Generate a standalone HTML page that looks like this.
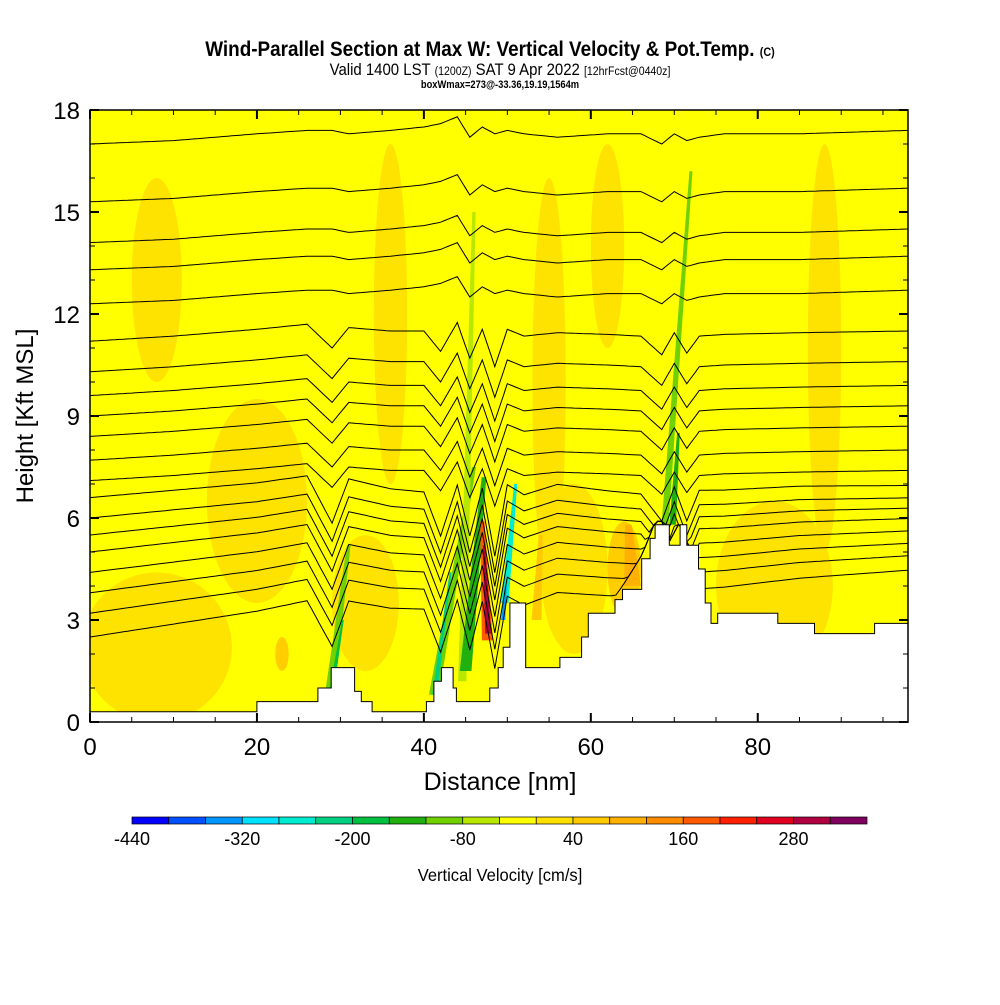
<!DOCTYPE html>
<html><head><meta charset="utf-8"><style>
body{margin:0;background:#fff;width:1000px;height:1000px;overflow:hidden;font-family:"Liberation Sans",sans-serif}
svg text{font-family:"Liberation Sans",sans-serif}
</style></head><body>
<svg id="c" width="1000" height="1000" viewBox="0 0 1000 1000">
<text x="490" y="56" text-anchor="middle" font-size="21" font-weight="bold" transform="translate(490,0) scale(0.9,1) translate(-490,0)">Wind-Parallel Section at Max W: Vertical Velocity &amp; Pot.Temp. <tspan font-size="12">(C)</tspan></text>
<text x="500" y="75" text-anchor="middle" font-size="17" transform="translate(500,0) scale(0.88,1) translate(-500,0)">Valid 1400 LST <tspan font-size="12">(1200Z)</tspan> SAT 9 Apr 2022 <tspan font-size="12">[12hrFcst@0440z]</tspan></text>
<text x="500" y="88" text-anchor="middle" font-size="11" font-weight="bold" transform="translate(500,0) scale(0.85,1) translate(-500,0)">boxWmax=273@-33.36,19.19,1564m</text>
<g id="plot"></g>
<g id="axes"></g>
<g id="cbar"></g>
<text x="500" y="881" text-anchor="middle" font-size="18" transform="translate(500,0) scale(0.92,1) translate(-500,0)">Vertical Velocity [cm/s]</text>
<text x="500" y="790" text-anchor="middle" font-size="25">Distance [nm]</text>
<text x="0" y="0" text-anchor="middle" font-size="24" transform="translate(33,416) rotate(-90)">Height [Kft MSL]</text>
</svg>
<script>
const xTicks=[0,20,40,60,80];
const yTicks=[0,3,6,9,12,15,18];
const cbarLevels=[-440,-400,-360,-320,-280,-240,-200,-160,-120,-80,-40,0,40,80,120,160,200,240,280,320,360];
const cbarColors=["#0000ff","#0050ff","#0096ff","#00e0ff","#00ecd0","#00d080","#00c040","#20b010","#70d000","#b8e800","#ffff00","#ffe000","#ffc800","#ffb000","#ff8c00","#ff5a00","#ff2000","#e00020","#b00040","#800060"];
const cbarLabels=[-440,-320,-200,-80,40,160,280];
const terrX=[0,20,27.3,28.9,31.7,32.5,33.8,40.3,41.2,42.1,43.5,43.9,47.9,48.9,49.5,50.3,52.2,56.3,58.9,59.7,61.8,62.9,63.8,66.1,67.1,67.7,68.6,69.4,70.7,71.5,72.9,73.7,74.4,75.2,82.4,86.8,94];
const terrH=[0.3,0.6,1.0,1.6,0.9,0.6,0.3,0.6,1.2,1.6,1.0,0.6,1.0,1.6,2.2,3.5,1.6,1.9,2.5,3.2,3.2,3.6,3.9,4.8,5.4,5.8,5.8,5.2,5.8,5.2,4.5,3.5,2.9,3.2,2.9,2.6,2.9];
const thetaBase=[17.0,15.3,14.1,13.3,12.3,11.2,10.3,9.6,9.0,8.4,7.7,7.1,6.6,6.0,5.5,5.0,4.4,3.8,3.2,2.5];
const pertX=[0,10,20,26,29,31,36,40,42,44,45.5,47,48.5,50,52,56,62,66,68.5,70,71.5,73,76,85,98];
const pertHi=[0,0.1,0.3,0.4,0.4,0.3,0.4,0.5,0.6,0.8,0.2,0.5,0.3,0.4,0.3,0.2,0.3,0.3,0.0,0.3,0.1,0.2,0.3,0.3,0.4];
const pertLo=[0,0.2,0.4,0.6,-0.8,0.5,0.2,0.1,-1.2,0.3,-1.2,0.2,-1.8,0.3,0.0,0.3,0.1,0.0,-0.8,0.2,-0.8,0.1,0.1,0.2,0.2];
const streaks=[[28.8,1.0,31,5.2,1.1,-120],[29,1.0,30.3,3.0,0.5,-200],[41.2,0.8,46,7.5,1.2,-120],[41.3,0.8,43.2,4.4,0.6,-240],[44.6,1.2,46,15,1.0,-80],[45,1.5,47.2,7.2,1.4,-140],[47.6,2.4,47.0,5.9,1.3,160],[47.7,2.6,47.2,5.2,0.7,300],[49.7,3.5,51,7.0,0.9,-280],[49.5,3.0,49.8,4.0,0.5,-360],[68.5,4.5,72,16.2,0.9,-100],[69.8,5.8,70.5,8.5,0.8,-160],[65,4.0,64.5,5.8,2.0,80],[53.5,3.0,54,5.5,1.2,60]];
const blobs=[[8,2.2,9,2.2,20],[20,6.5,6,3,20],[33,3.5,4,2,20],[58,4.5,4,2.5,20],[64,4.5,2,1.4,60],[82,4,7,2.5,20],[8,13,3,3,20],[36,12,2,5,20],[55,10,2,6,20],[88,11,2,6,20],[62,14,2,3,20],[23,2,0.8,0.5,60]];
const X0=90,X1=908,Y0=722,Y1=110,XMAX=98,YMAX=18;
const sx=v=>X0+v/XMAX*(X1-X0), sy=v=>Y0-v/YMAX*(Y0-Y1);
const NS="http://www.w3.org/2000/svg";
function mk(t,a,p){const e=document.createElementNS(NS,t);for(const k in a)e.setAttribute(k,a[k]);p.appendChild(e);return e;}
function colorFor(v){for(let i=0;i<cbarColors.length;i++){if(v<cbarLevels[i+1])return cbarColors[i];}return cbarColors[cbarColors.length-1];}
const plot=document.getElementById('plot');
const defs=mk('defs',{},plot);
const cp=mk('clipPath',{id:'clip'},defs);
mk('rect',{x:X0,y:Y1,width:X1-X0,height:Y0-Y1},cp);
const g=mk('g',{'clip-path':'url(#clip)'},plot);
const bg=mk('rect',{x:X0,y:Y1,width:X1-X0,height:Y0-Y1,fill:'#ffff00'},g);


blobs.forEach(b=>{const e=mk('ellipse',{cx:sx(b[0]),cy:sy(b[1]),rx:b[2]/XMAX*(X1-X0),ry:b[3]/YMAX*(Y0-Y1),fill:colorFor(b[4]),opacity:0.9},g);

});
streaks.forEach(s=>{const hw=s[4]/2;const pts=[[s[0]-hw,s[1]],[s[2]-hw*0.4,s[3]],[s[2]+hw*0.4,s[3]],[s[0]+hw,s[1]]].map(p=>sx(p[0])+','+sy(p[1])).join(' ');
const e=mk('polygon',{points:pts,fill:colorFor(s[5])},g);

});
function interp(xs,ys,x){if(x<=xs[0])return ys[0];for(let i=1;i<xs.length;i++){if(x<=xs[i]){const t=(x-xs[i-1])/(xs[i]-xs[i-1]);return ys[i-1]+t*(ys[i]-ys[i-1]);}}return ys[ys.length-1];}
thetaBase.forEach((b,j)=>{let f=b>=12?1:(b>7?0.5:0);let d='';
for(let x=0;x<=XMAX;x+=0.5){const p=f*interp(pertX,pertHi,x)+(1-f)*interp(pertX,pertLo,x);
let h=b+p+(b<7?x*0.012*(7-b)/3:0);const t=interp(terrX,terrH,x);if(h<t+0.1)h=t+0.1;
d+=(x===0?'M':'L')+sx(x).toFixed(1)+','+sy(h).toFixed(1);}
const e=mk('path',{d:d,fill:'none',stroke:'#000','stroke-width':1},g);

});
let td='M'+sx(0)+','+sy(0);
for(let i=0;i<terrX.length;i++){const xa=terrX[i],xb=i+1<terrX.length?terrX[i+1]:XMAX;td+='L'+sx(xa).toFixed(1)+','+sy(terrH[i]).toFixed(1)+'L'+sx(xb).toFixed(1)+','+sy(terrH[i]).toFixed(1);}
td+='L'+sx(XMAX)+','+sy(0)+'Z';
const terr=mk('path',{d:td,fill:'#fff',stroke:'#000','stroke-width':1},g);


const ax=document.getElementById('axes');
mk('rect',{x:X0,y:Y1,width:X1-X0,height:Y0-Y1,fill:'none',stroke:'#000','stroke-width':1.5},ax);
for(let v=0;v<=XMAX;v+=5){const maj=v%20===0;mk('line',{x1:sx(v),x2:sx(v),y1:Y0,y2:Y0-(maj?9:5),stroke:'#000','stroke-width':maj?2:1},ax);mk('line',{x1:sx(v),x2:sx(v),y1:Y1,y2:Y1+(maj?9:5),stroke:'#000','stroke-width':maj?2:1},ax);}
for(let v=0;v<=YMAX;v+=1){const maj=v%3===0;mk('line',{x1:X0,x2:X0+(maj?9:5),y1:sy(v),y2:sy(v),stroke:'#000','stroke-width':maj?2:1},ax);mk('line',{x1:X1,x2:X1-(maj?9:5),y1:sy(v),y2:sy(v),stroke:'#000','stroke-width':maj?2:1},ax);}
xTicks.forEach(v=>{const t=mk('text',{x:sx(v),y:755,'text-anchor':'middle','font-size':24},ax);t.textContent=v;

});
yTicks.forEach(v=>{const t=mk('text',{x:80,y:sy(v)+9,'text-anchor':'end','font-size':24},ax);t.textContent=v;

});
const cb=document.getElementById('cbar');const CB0=132,CB1=867;const cw=(CB1-CB0)/cbarColors.length;
cbarColors.forEach((c,i)=>{const r=mk('rect',{x:CB0+i*cw,y:817,width:cw,height:7,fill:c,stroke:'#000','stroke-width':0.7},cb);

});
cbarLabels.forEach(v=>{const i=cbarLevels.indexOf(v);const t=mk('text',{x:CB0+i*cw,y:845,'text-anchor':'middle','font-size':18},cb);t.textContent=v;

});
</script>
</body></html>
